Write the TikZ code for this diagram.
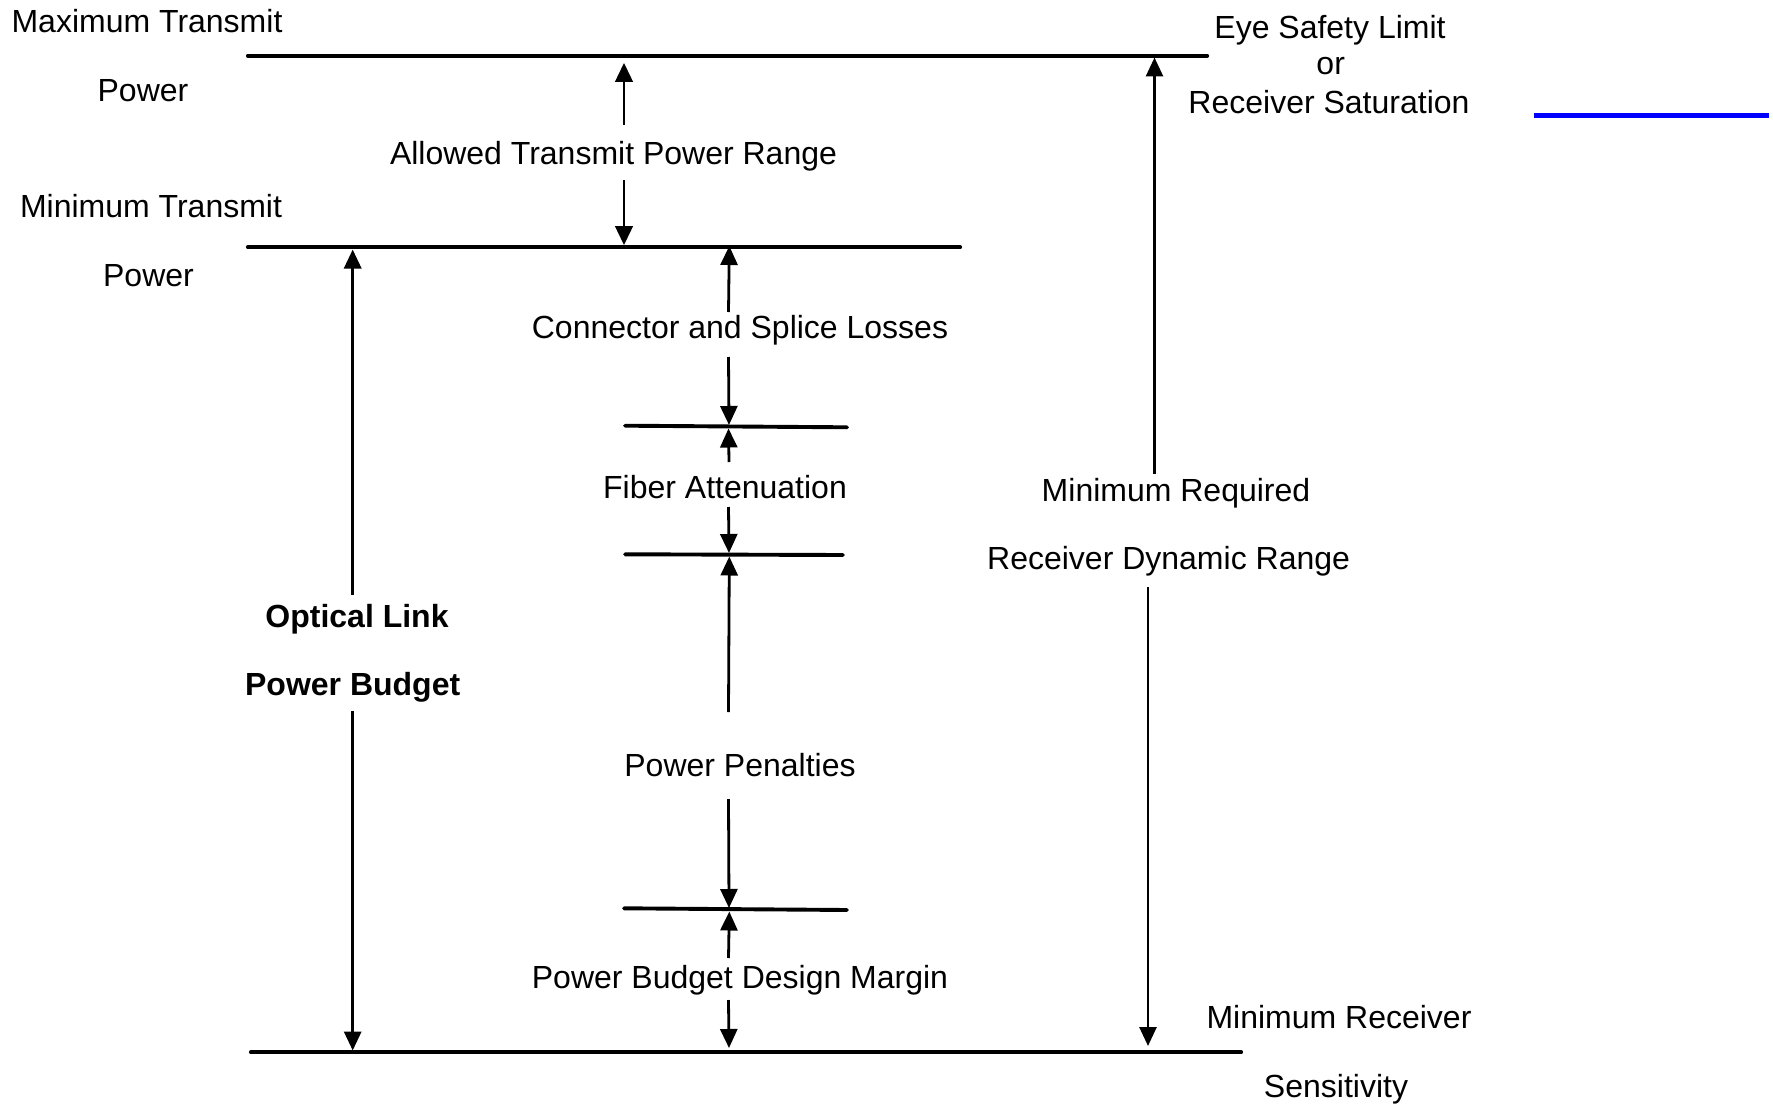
\documentclass[tikz,border=0pt]{standalone}
\usepackage{fontspec}
\setmainfont{Liberation Sans}
\usetikzlibrary{arrows.meta}
\tikzset{
  lvl/.style={line width=4.2pt, line cap=round},
  sublvl/.style={line width=3.9pt, line cap=round},
  arr/.style={line width=2.8pt, -{Triangle[length=19pt,width=17pt]}},
  thinarr/.style={line width=1.4pt, -{Triangle[length=19pt,width=18pt]}},
  lbl/.style={anchor=base, inner sep=0pt, font=\fontsize{32}{38}\selectfont},
  blbl/.style={anchor=base, inner sep=0pt, font=\fontsize{32}{38}\selectfont\bfseries}
}
\begin{document}
\begin{tikzpicture}[x=1pt,y=-1pt]
\useasboundingbox (0,0) rectangle (1773,1105);

% level lines
\coordinate (topL) at (248,55.7);   \coordinate (topR) at (1207,55.7);
\coordinate (minL) at (248,247.3);  \coordinate (minR) at (960,247.3);
\coordinate (botL) at (251,1052.3); \coordinate (botR) at (1241,1052.3);
\coordinate (s1L) at (625,425.7);   \coordinate (s1R) at (847,427.3);
\coordinate (s2L) at (625,554.3);   \coordinate (s2R) at (843,555);
\coordinate (s3L) at (624,908.3);   \coordinate (s3R) at (847,910);
\coordinate (blL) at (1534,115.3);  \coordinate (blR) at (1769,115.3);

\draw[lvl] (topL) -- (topR);
\draw[lvl] (minL) -- (minR);
\draw[lvl] (botL) -- (botR);
\draw[sublvl] (s1L) -- (s1R);
\draw[sublvl] (s2L) -- (s2R);
\draw[sublvl] (s3L) -- (s3R);
\draw[line width=4.7pt, blue] (blL) -- (blR);

% labels
\node[lbl] (maxT) at (147,32.3) {Maximum Transmit};
\node[lbl] (pow1) at (143,101.5) {Power};
\node[lbl] (minT) at (151,217) {Minimum Transmit};
\node[lbl] (pow2) at (148.5,286.5) {Power};
\node[lbl] (allowed) at (613.5,164.5) {Allowed Transmit Power Range};
\node[lbl] (eye) at (1330,39) {Eye Safety Limit};
\node[lbl] (or) at (1330.7,75) {or};
\node[lbl] (recsat) at (1329,114) {Receiver Saturation};
\node[lbl] (conn) at (740,338) {Connector and Splice Losses};
\node[lbl] (fiber) at (725,498.5) {Fiber Attenuation};
\node[lbl] (pen) at (740,776) {Power Penalties};
\node[lbl] (margin) at (740,988) {Power Budget Design Margin};
\node[blbl] (optical) at (357,627) {Optical Link};
\node[blbl] (budget) at (352.7,695) {Power Budget};
\node[lbl] (minreq) at (1176,501) {Minimum Required};
\node[lbl] (dynr) at (1168.6,569) {Receiver Dynamic Range};
\node[lbl] (minrec) at (1339,1028) {Minimum Receiver};
\node[lbl] (sens) at (1336,1097) {Sensitivity};

% arrow end points
\coordinate (a1s) at (624,125);   \coordinate (a1e) at (624,63);
\coordinate (a2s) at (624,180);   \coordinate (a2e) at (624,245);
\coordinate (o1s) at (352.7,595); \coordinate (o1e) at (352.7,249.5);
\coordinate (o2s) at (352.7,711); \coordinate (o2e) at (352.7,1050.5);
\coordinate (c1s) at (728.5,312); \coordinate (c1e) at (729.3,246);
\coordinate (c2s) at (728.5,357); \coordinate (c2e) at (729,425);
\coordinate (f1s) at (729,462);   \coordinate (f1e) at (728.5,428.5);
\coordinate (f2s) at (728.5,507); \coordinate (f2e) at (729,553);
\coordinate (p1s) at (728.5,712); \coordinate (p1e) at (729.3,556.5);
\coordinate (p2s) at (728.5,799); \coordinate (p2e) at (729,908);
\coordinate (m1s) at (728.5,958); \coordinate (m1e) at (729.3,911.5);
\coordinate (m2s) at (728.5,1000);\coordinate (m2e) at (729,1048);
\coordinate (r1s) at (1154.5,474);\coordinate (r1e) at (1154.5,57.5);
\coordinate (r2s) at (1148,587);  \coordinate (r2e) at (1148,1046);

\draw[thinarr] (a1s) -- (a1e);
\draw[thinarr] (a2s) -- (a2e);
\draw[arr, line width=3.2pt] (o1s) -- (o1e);
\draw[arr, line width=3.2pt] (o2s) -- (o2e);
\draw[arr] (c1s) -- (c1e);
\draw[arr] (c2s) -- (c2e);
\draw[arr] (f1s) -- (f1e);
\draw[arr] (f2s) -- (f2e);
\draw[arr] (p1s) -- (p1e);
\draw[arr] (p2s) -- (p2e);
\draw[arr] (m1s) -- (m1e);
\draw[arr] (m2s) -- (m2e);
\draw[arr] (r1s) -- (r1e);
\draw[arr] (r2s) -- (r2e);
\end{tikzpicture}
\end{document}
